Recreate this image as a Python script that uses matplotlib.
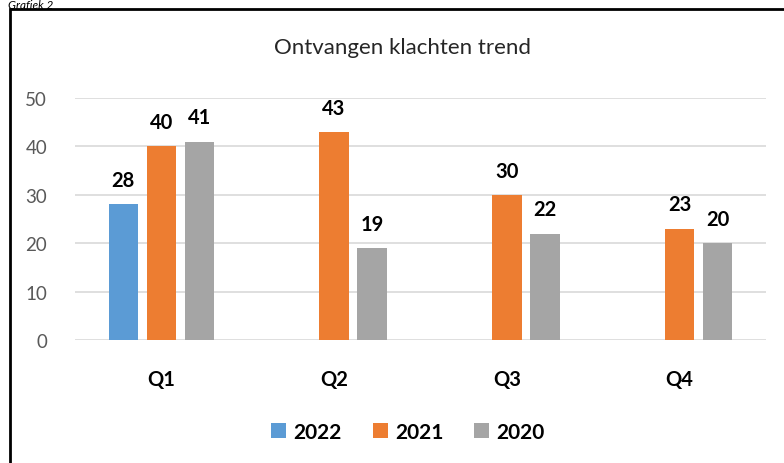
import matplotlib.pyplot as plt
import numpy as np
from matplotlib.patches import Rectangle

quarters = ["Q1", "Q2", "Q3", "Q4"]
years = ["2022", "2021", "2020"]
v2022 = [28, None, None, None]
v2021 = [40, 43, 30, 23]
v2020 = [41, 19, 22, 20]
colors = ["#5b9bd5", "#ed7d31", "#a5a5a5"]

plt.rcParams["font.family"] = ["Lato", "DejaVu Sans"]

fig = plt.figure(figsize=(7.84, 4.64), dpi=100)
W, H = 784, 464
ax = fig.add_axes([75 / W, 1 - 341 / H, 691 / W, 242 / H])

x = np.arange(len(quarters))
bw = 0.17
step = 0.22
for i, (name, vals) in enumerate(zip(years, [v2022, v2021, v2020])):
    xs = [xi + (i - 1) * step for xi, v in zip(x, vals) if v is not None]
    ys = [v for v in vals if v is not None]
    ax.bar(xs, ys, width=bw, color=colors[i], label=name, zorder=3)
    for xi, yi in zip(xs, ys):
        ax.text(xi, yi + 5, str(yi), ha="center", va="center",
                fontsize=14.5, fontweight="bold", color="black")

ax.set_xlim(-0.5, 3.5)
ax.set_ylim(0, 50)
ax.set_yticks(range(0, 51, 10))
ax.yaxis.grid(True, color="#d9d9d9", linewidth=1.2, zorder=0)
for s in ax.spines.values():
    s.set_visible(False)
ax.tick_params(axis="both", length=0)
ax.tick_params(axis="y", labelsize=13.5, labelcolor="#595959", pad=20)
ax.set_xticks(x)
ax.set_xticklabels(quarters, fontsize=14.5, fontweight="bold")
ax.tick_params(axis="x", pad=21)

fig.text(403 / W, 1 - 48 / H, "Ontvangen klachten trend", ha="center",
         va="center", fontsize=16, color="#262626")

fig.legend(loc="center", bbox_to_anchor=(408 / W, 1 - 433 / H), ncol=3,
           frameon=False, prop={"weight": "bold", "size": 15},
           handlelength=0.7, handleheight=0.7, handletextpad=0.35,
           columnspacing=1.5)

fig.text(8 / W, 1 - 0.5 / H, "Grafiek 2", ha="left", va="top",
         fontsize=8.5, style="italic")

fig.patches.append(Rectangle((10 / W, -0.1), 1.0, 1 - 10 / H + 0.1,
                             transform=fig.transFigure, fill=False,
                             edgecolor="black", linewidth=2))

fig.savefig("out.png", dpi=100)
